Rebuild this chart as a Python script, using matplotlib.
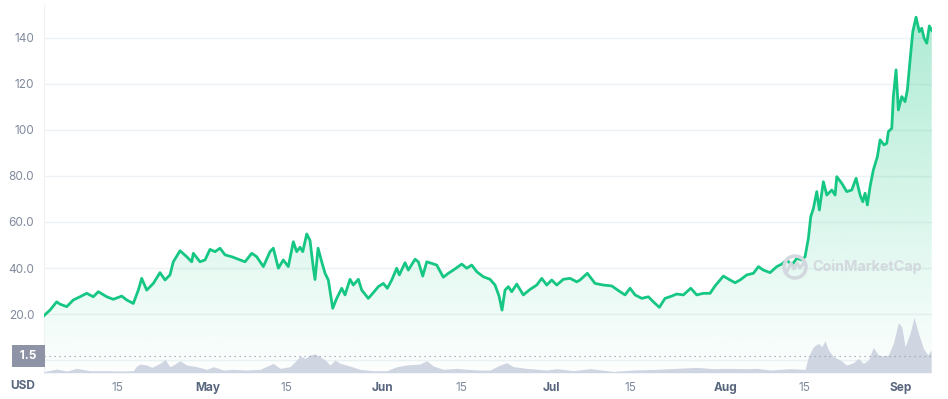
import numpy as np
import pandas as pd
import matplotlib
matplotlib.use("Agg")
import matplotlib.pyplot as plt
import matplotlib.dates as mdates
from matplotlib.patches import Circle
from matplotlib.transforms import IdentityTransform, blended_transform_factory

plt.rcParams["font.family"] = ["Inter", "DejaVu Sans"]

# price, USD (days counted from 2 Apr 2021)
start = pd.Timestamp("2021-04-02")
price_days = [
    0.0, 1.06, 2.25, 2.84, 4.03, 5.20, 6.39, 7.58, 8.75, 9.64, 11.13, 12.30, 13.79, 14.68,
    15.85, 16.74, 17.34, 18.23, 19.40, 20.59, 21.48, 22.36, 22.95, 24.14, 25.33, 26.22,
    26.50, 27.69, 28.58, 29.46, 30.35, 31.24, 32.13, 33.32, 34.79, 35.68, 36.87, 37.75,
    38.93, 40.11, 40.70, 41.59, 42.47, 43.36, 44.25, 44.85, 45.44, 45.92, 46.63, 47.21,
    47.80, 48.10, 48.64, 49.29, 49.88, 50.46, 51.24, 51.95, 52.84, 53.42, 54.31, 54.90,
    55.79, 56.39, 57.56, 58.45, 59.34, 60.22, 60.93, 61.72, 62.60, 63.06, 64.08, 64.66,
    65.85, 66.44, 67.22, 67.93, 68.81, 69.70, 70.87, 71.76, 72.65, 74.14, 75.03, 75.91,
    76.80, 77.97, 79.16, 80.05, 80.76, 81.29, 81.82, 82.41, 83.01, 83.90, 85.07, 86.26,
    87.45, 88.34, 89.23, 90.11, 91.00, 92.17, 93.36, 94.55, 95.14, 96.43, 97.80, 99.27,
    100.76, 102.24, 103.12, 104.01, 104.90, 106.09, 107.26, 108.45, 109.21, 110.22,
    111.41, 112.30, 113.47, 114.79, 115.85, 117.02, 118.21, 119.10, 120.57, 121.76,
    122.65, 123.54, 124.73, 125.90, 126.79, 127.67, 128.86, 130.05, 130.94, 131.83,
    132.71, 133.60, 134.49, 135.07, 135.66, 136.08, 136.55, 137.15, 137.61, 138.32,
    138.93, 139.81, 140.40, 140.70, 141.59, 142.47, 143.36, 144.13, 144.84, 145.31,
    145.72, 146.13, 146.61, 147.19, 147.91, 148.39, 149.10, 149.57, 149.86, 150.46,
    150.74, 151.22, 151.63, 152.23, 152.82, 153.23, 153.71, 154.19, 154.77, 155.36,
    155.78, 156.19, 156.67, 157.13, 157.56,
]
price = [
    19.3, 21.7, 25.3, 24.3, 23.2, 26.1, 27.5, 29.0, 27.5, 29.7, 27.5, 26.4, 27.8, 26.1,
    24.6, 30.4, 35.5, 30.4, 33.3, 38.0, 34.8, 37.0, 42.7, 47.5, 44.9, 42.7,
    46.4, 42.7, 43.5, 48.1, 47.1, 48.6, 45.7, 44.9, 43.5, 42.7, 46.4, 44.9,
    40.6, 47.1, 48.6, 39.9, 43.5, 40.6, 51.4, 47.1, 49.0, 47.1, 54.8, 52.0,
    40.0, 35.0, 48.6, 42.7, 37.7, 34.8, 22.5, 26.8, 31.2, 28.3, 35.1, 32.6,
    35.1, 30.4, 26.8, 29.3, 31.9, 33.3, 31.2, 34.8, 39.9, 37.0, 42.3, 39.1,
    43.8, 42.7, 36.5, 42.7, 42.0, 41.3, 36.0, 37.7, 39.1, 41.7, 39.9, 41.3,
    38.4, 36.2, 35.1, 32.6, 27.8, 21.7, 30.4, 31.9, 29.7, 33.0, 28.3, 30.7,
    32.6, 35.5, 32.6, 34.8, 32.6, 35.1, 35.5, 34.0, 34.8, 37.7, 33.3, 32.6,
    32.2, 29.7, 28.3, 31.2, 28.3, 26.8, 27.5, 24.6, 22.9, 26.8,
    27.8, 28.7, 28.3, 31.2, 28.3, 29.0, 29.0, 32.2, 36.5, 34.8,
    33.6, 34.8, 37.0, 37.7, 40.6, 39.1, 38.0, 40.6, 41.7, 43.5,
    41.3, 44.2, 43.5, 44.9, 52.9, 62.3, 65.9, 73.2, 65.2, 77.5,
    71.7, 73.9, 71.7, 79.7, 76.8, 73.2, 73.9, 79.0, 71.7, 68.8,
    72.5, 67.4, 75.4, 82.6, 88.4, 95.7, 93.5, 94.2, 99.3, 100.7,
    114.5, 126.1, 108.7, 114.5, 112.3, 117.4, 130.4, 142.7, 149.0, 142.7,
    144.2, 139.9, 137.7, 145.2, 143.2,
]

# 24h volume, billions USD
vol_days = [
    0.0, 2.25, 4.03, 5.80, 8.16, 11.13, 14.08, 15.85, 16.45, 17.04, 18.23, 19.12, 20.59,
    21.48, 22.36, 22.95, 24.14, 25.33, 27.10, 28.88, 30.05, 31.83, 33.60, 35.98, 38.34,
    40.70, 41.89, 43.66, 44.85, 45.44, 46.33, 47.21, 48.10, 48.99, 49.88, 50.76, 51.65,
    52.54, 54.31, 56.09, 58.45, 60.83, 62.60, 64.38, 66.74, 67.93, 69.10, 70.87, 73.25,
    75.03, 77.39, 79.16, 80.94, 82.13, 83.30, 85.68, 89.23, 91.00, 93.95, 96.91, 101.05,
    104.60, 108.75, 111.11, 115.85, 118.80, 121.17, 124.73, 126.51, 128.86, 132.41,
    135.07, 135.66, 136.55, 137.43, 138.04, 138.62, 139.21, 140.10, 141.29, 142.47,
    143.64, 144.53, 145.42, 146.31, 147.19, 148.08, 148.97, 149.86, 150.74, 151.63,
    152.23, 152.82, 153.71, 154.42, 155.19, 156.07, 156.85, 157.45,
]
volume = [
    0.10, 0.33, 0.15, 0.39, 0.18, 0.18, 0.15, 0.18, 0.60, 0.78, 0.69, 0.48, 0.84,
    1.19, 0.54, 0.69, 1.08, 0.69, 0.54, 0.30, 0.54, 0.24, 0.30, 0.24, 0.30,
    0.84, 0.39, 0.54, 1.14, 1.50, 1.28, 1.59, 1.68, 1.44, 1.14, 0.69, 1.14,
    0.84, 0.60, 0.30, 0.18, 0.18, 0.54, 0.69, 0.78, 1.08, 0.60, 0.30, 0.39,
    0.30, 0.24, 0.24, 0.69, 0.90, 0.54, 0.39, 0.24, 0.36, 0.18, 0.36, 0.12,
    0.24, 0.30, 0.36, 0.48, 0.36, 0.39, 0.36, 0.39, 0.24, 0.36,
    0.30, 1.44, 2.33, 2.63, 2.33, 2.87, 2.04, 1.44, 1.14, 0.69,
    0.90, 1.28, 0.84, 1.14, 2.27, 1.59, 1.50, 1.59, 2.63, 4.49,
    4.13, 2.33, 3.53, 4.97, 3.53, 2.18, 1.59, 2.04,
]

price_ticks = [20, 40, 60, 80, 100, 120, 140]
price_labels = ["20.0", "40.0", "60.0", "80.0", "100", "120", "140"]
date_ticks = ["2021-04-15", "2021-05-01", "2021-05-15", "2021-06-01", "2021-06-15",
              "2021-07-01", "2021-07-15", "2021-08-01", "2021-08-15", "2021-09-01"]
date_labels = ["15", "May", "15", "Jun", "15", "Jul", "15", "Aug", "15", "Sep"]
vol_mark = 1.5

green = "#16c784"
grid_c = "#eff2f5"
label_c = "#808a9d"
dark_c = "#58667e"

p_dates = start + pd.to_timedelta(price_days, unit="D")
v_dates = start + pd.to_timedelta(vol_days, unit="D")

fig = plt.figure(figsize=(9.48, 3.99), dpi=100)
ax = fig.add_axes([44 / 948, 26.3 / 399, 888 / 948, 367.7 / 399])
ax_vol = ax.twinx()

x0 = start
x1 = start + pd.Timedelta(days=157.6)
ax.set_xlim(x0, x1)
ax.set_ylim(-5.5, 154.3)
ax_vol.set_ylim(0, 33.0)

# price gridlines
for v in [0] + price_ticks:
    ax.axhline(v, color=grid_c, lw=1, zorder=0)

# gradient fill below the price line
ylo, yhi = ax.get_ylim()
fill = ax.fill_between(p_dates, price, ylo, facecolor="none", edgecolor="none")
grad = np.zeros((256, 1, 4))
grad[:, 0, :3] = matplotlib.colors.to_rgb(green)
grad[:, 0, 3] = np.linspace(0.01, 0.355, 256)
img = ax.imshow(grad, aspect="auto", origin="lower",
                extent=[mdates.date2num(x0), mdates.date2num(x1), ylo, yhi], zorder=1)
img.set_clip_path(fill.get_paths()[0], transform=ax.transData)
ax.set_xlim(x0, x1)
ax.set_ylim(ylo, yhi)

ax.plot(p_dates, price, color=green, lw=2, zorder=3, solid_joinstyle="round")

# volume
ax_vol.fill_between(v_dates, volume, 0, color="#cfd5e1", lw=0, zorder=2)
ax_vol.axhline(vol_mark, color="#9aa1b1", lw=0.9, ls=(0, (1, 3)), zorder=3)
ax_vol.set_yticks([])
ax_vol.text(-0.0175, vol_mark, f" {vol_mark} ", transform=blended_transform_factory(ax.transAxes, ax_vol.transData),
            ha="center", va="center", color="white", fontsize=8.5, fontweight="bold",
            bbox=dict(boxstyle="square,pad=0.45", fc="#8e94a5", ec="none"), clip_on=False)

ax.set_yticks(price_ticks)
ax.set_yticklabels(price_labels)
ax.tick_params(axis="y", length=0, pad=7, labelsize=8.5, labelcolor=label_c)

ax.set_xticks(pd.to_datetime(date_ticks))
ax.set_xticklabels(date_labels)
ax.tick_params(axis="x", length=0, pad=7, labelsize=8.5, labelcolor=label_c)
for t in ax.get_xticklabels():
    if not t.get_text().isdigit():
        t.set_fontweight("bold")
        t.set_color(dark_c)
ax.text(-0.024, -0.036, "USD", transform=ax.transAxes, ha="center", va="center",
        fontsize=8.5, fontweight="bold", color=dark_c)

for a in (ax, ax_vol):
    for s in a.spines.values():
        s.set_visible(False)
ax.spines["left"].set_visible(True)
ax.spines["left"].set_color(grid_c)

# watermark
wm = "#d3d7de"
fig.text(812 / 948, (399 - 267) / 399, "CoinMarketCap", fontsize=10.3, fontweight="bold",
         color=wm, ha="left", va="center")
fig.add_artist(Circle((795, 399 - 267), 11, transform=IdentityTransform(),
                      fill=False, ec=wm, lw=2.5))
wx = [787, 791, 794, 797, 800, 803]
wy = [128, 136, 130, 136, 131, 135]
fig.add_artist(matplotlib.lines.Line2D(wx, wy, transform=IdentityTransform(), color=wm, lw=2.2))

fig.savefig("out.png", dpi=100)
